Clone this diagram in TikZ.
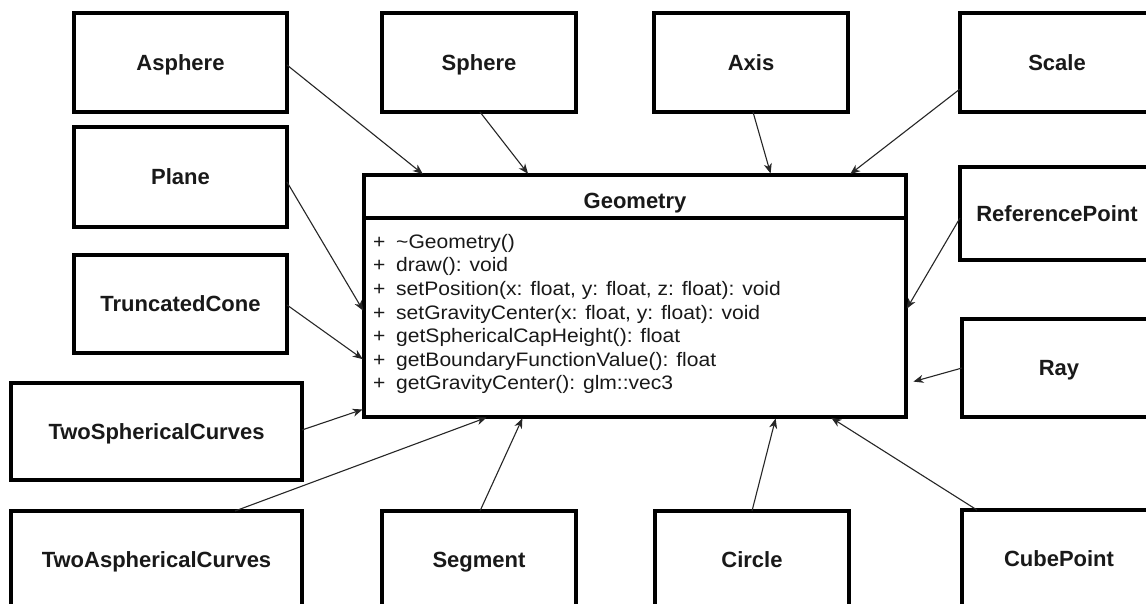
\documentclass[tikz,border=0pt]{standalone}
\usepackage{fontspec}
\setmainfont{Liberation Sans}
\newfontfamily\methfont[FakeStretch=1.08]{Liberation Sans}
\usetikzlibrary{arrows.meta,calc}
\tikzset{
  cls/.style={draw=black, line width=4.5pt, inner sep=0pt, outer sep=0pt, fill=white,
    font=\fontsize{22}{26}\selectfont\bfseries, text=black!90, text height=15.8pt, text depth=0pt},
  wide/.style={minimum width=213pt},
  mid/.style={minimum width=194pt},
  twide/.style={minimum width=291pt},
  inh/.style={draw=black!85, line width=1.1pt, -{Stealth[length=10pt,width=8pt,inset=3pt]}, shorten >=1.5pt},
  meth/.style={font=\methfont\fontsize{19.5}{23}\selectfont, text=black!90, inner sep=0pt, anchor=base west}
}
\newcommand{\plusbox}{\makebox[23pt][l]{+}}
\begin{document}
\begin{tikzpicture}[x=1pt,y=-1pt]
\useasboundingbox (0,0) rectangle (1146,604);
\fill[white] (0,0) rectangle (1146,604);
\clip (0,0) rectangle (1146,604);

% top row
\node[cls, wide, minimum height=99pt] (asphere) at (180.5,62.5) {Asphere};
\node[cls, mid, minimum height=99pt] (sphere) at (479,62.5) {Sphere};
\node[cls, mid, minimum height=99pt] (axis) at (751,62.5) {Axis};
\node[cls, mid, minimum height=99pt] (scale) at (1057,62.5) {Scale};
% left column
\node[cls, wide, minimum height=100pt] (plane) at (180.5,177) {Plane};
\node[cls, wide, minimum height=98pt] (truncone) at (180.5,304) {TruncatedCone};
\node[cls, twide, minimum height=97pt] (twosph) at (156.5,431.5) {TwoSphericalCurves};
% right column
\node[cls, mid, minimum height=93pt] (refpoint) at (1057,213.5) {ReferencePoint};
\node[cls, mid, minimum height=98pt] (ray) at (1059,368) {Ray};
% bottom row
\node[cls, twide, minimum height=97pt] (twoasph) at (156.5,559.5) {TwoAsphericalCurves};
\node[cls, mid, minimum height=97pt] (segment) at (479,559.5) {Segment};
\node[cls, mid, minimum height=97pt] (circle) at (752,559.5) {Circle};
\node[cls, mid, minimum height=97pt] (cube) at (1059,558.5) {CubePoint};

% Geometry class
\node[draw=black, line width=4.5pt, inner sep=0pt, outer sep=0pt, fill=white,
      minimum width=542pt, minimum height=242pt] (geom) at (635,296) {};
\draw[line width=4pt] ($(geom.north west)+(0,43)$) -- ($(geom.north east)+(0,43)$);
\node[font=\fontsize{22}{26}\selectfont\bfseries, text=black!90, inner sep=0pt, anchor=base] (gtitle) at ($(geom.north)+(0,34)$) {Geometry};
\node[meth] (m1) at (373,248.5) {\plusbox\textasciitilde Geometry()};
\node[meth] (m2) at (373,272) {\plusbox draw(): void};
\node[meth] (m3) at (373,295.5) {\plusbox setPosition(x: float, y: float, z: float): void};
\node[meth] (m4) at (373,319) {\plusbox setGravityCenter(x: float, y: float): void};
\node[meth] (m5) at (373,342.5) {\plusbox getSphericalCapHeight(): float};
\node[meth] (m6) at (373,366) {\plusbox getBoundaryFunctionValue(): float};
\node[meth] (m7) at (373,389.5) {\plusbox getGravityCenter(): glm::vec3};

% inheritance connectors
\draw[inh] ($(asphere.east)+(0,2.5)$) -- ($(geom.north west)+(60,0)$);
\draw[inh] ($(sphere.south)+(1,0)$) -- ($(geom.north west)+(165,0)$);
\draw[inh] ($(axis.south)+(2,0)$) -- ($(geom.north west)+(407,0)$);
\draw[inh] ($(scale.south west)+(0,-23)$) -- ($(geom.north west)+(485,0)$);
\draw[inh] ($(plane.east)+(0,5)$) -- ($(geom.north west)+(0,137)$);
\draw[inh] ($(truncone.east)+(0,1)$) -- ($(geom.north west)+(0,185)$);
\draw[inh] ($(twosph.east)+(0,-1.5)$) -- ($(geom.north west)+(0,234)$);
\draw[inh] ($(twoasph.north)+(78.5,0)$) -- ($(geom.south west)+(124,0)$);
\draw[inh] ($(segment.north)+(1,0)$) -- ($(geom.south west)+(159,0)$);
\draw[inh] (circle.north) -- ($(geom.south west)+(412,0)$);
\draw[inh] ($(cube.north west)+(15,0)$) -- ($(geom.south west)+(466,0)$);
\draw[inh] (ray.west) -- ($(geom.north east)+(6,207)$);
\draw[inh] ($(refpoint.west)+(0,4.5)$) -- ($(geom.north east)+(0,135)$);
\end{tikzpicture}
\end{document}
